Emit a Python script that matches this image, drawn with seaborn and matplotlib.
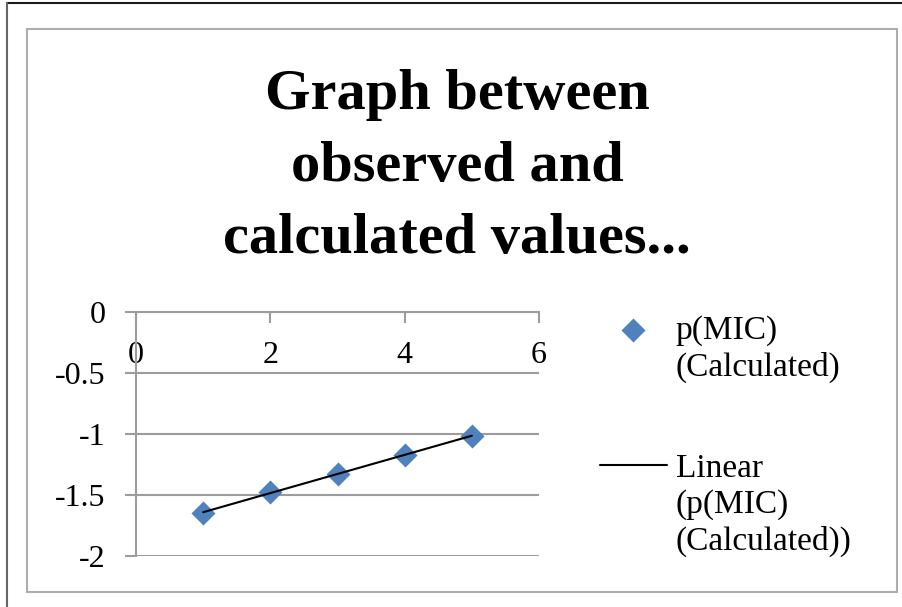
import numpy as np
import pandas as pd
import matplotlib
matplotlib.use("Agg")
import matplotlib.pyplot as plt
import seaborn as sns
from matplotlib.patches import Rectangle
from matplotlib.lines import Line2D

# ---- data ----
x_values = [1, 2, 3, 4, 5]
y_values = [-1.645, -1.478, -1.331, -1.173, -1.015]
x_ticks = [0, 2, 4, 6]
y_ticks = [-2, -1.5, -1, -0.5, 0]
y_tick_labels = ["-2", "-1.5", "-1", "-0.5", "0"]
title_text = "Graph between\nobserved and\ncalculated values..."
series_label = "p(MIC)\n(Calculated)"
trend_label = "Linear\n(p(MIC)\n(Calculated))"

sns.set_style("white")
plt.rcParams["font.family"] = ["Liberation Serif", "DejaVu Serif"]
plt.rcParams["text.color"] = "black"

W, H = 902, 607
fig = plt.figure(figsize=(W / 100, H / 100), dpi=100)


def fx(px):
    return px / W


def fy(py):
    return 1 - py / H


ax = fig.add_axes([fx(136), fy(556), fx(539) - fx(136), fy(311.7) - fy(556)])

df = pd.DataFrame({"x": x_values, "y": y_values})
sns.scatterplot(data=df, x="x", y="y", marker="D", s=150, color="#4F81BD",
                linewidth=0, ax=ax, label=series_label, zorder=3)

slope, intercept = np.polyfit(df["x"], df["y"], 1)
xfit = np.array([df["x"].min(), df["x"].max()])
trend = pd.DataFrame({"x": xfit, "y": slope * xfit + intercept})
sns.lineplot(data=trend, x="x", y="y", color="black", linewidth=1.5, ax=ax,
             label=trend_label, zorder=4)

gray = "#9C9C9C"
ax.set_xlim(0, 6)
ax.set_ylim(-2, 0)
ax.set_xticks(x_ticks)
ax.set_yticks(y_ticks)
ax.set_yticklabels(y_tick_labels)
ax.set_xlabel("")
ax.set_ylabel("")
ax.grid(axis="y", color=gray, linewidth=1.5)
ax.grid(axis="x", visible=False)
ax.set_axisbelow(True)
ax.spines["bottom"].set_position(("data", 0))
for s in ["top", "right"]:
    ax.spines[s].set_visible(False)
for s in ["left", "bottom"]:
    ax.spines[s].set_color(gray)
    ax.spines[s].set_linewidth(1.5)
ax.tick_params(axis="both", bottom=True, left=True, colors=gray,
               labelcolor="black", labelsize=23, length=8, width=1.5,
               direction="out")
ax.tick_params(axis="x", pad=13)
ax.tick_params(axis="y", pad=14)

leg = ax.legend(loc="upper left", bbox_to_anchor=(fx(600), fy(315)),
                bbox_transform=fig.transFigure, frameon=False, fontsize=24,
                borderpad=0, borderaxespad=0, handlelength=2.0,
                handletextpad=0.27, labelspacing=2.1, scatterpoints=1)
for t in leg.get_texts():
    t.set_linespacing(1.25)
for col in leg._legend_handle_box.get_children():
    for item in col.get_children():
        item.align = "top"

fig.text(fx(457), fy(167), title_text, ha="center", va="center",
         fontsize=42, fontweight="bold", linespacing=1.5,
         multialignment="center")

fig.add_artist(Rectangle((fx(27), fy(592)), fx(897) - fx(27), fy(29) - fy(592),
                         transform=fig.transFigure, fill=False,
                         edgecolor="#ADADAD", linewidth=1.5))
fig.add_artist(Line2D([fx(7), 1], [fy(3), fy(3)], transform=fig.transFigure,
                      color="#1a1a1a", linewidth=1.5))
fig.add_artist(Line2D([fx(7), fx(7)], [fy(3), 0], transform=fig.transFigure,
                      color="#666666", linewidth=1.5))

fig.savefig("out.png", dpi=100)
